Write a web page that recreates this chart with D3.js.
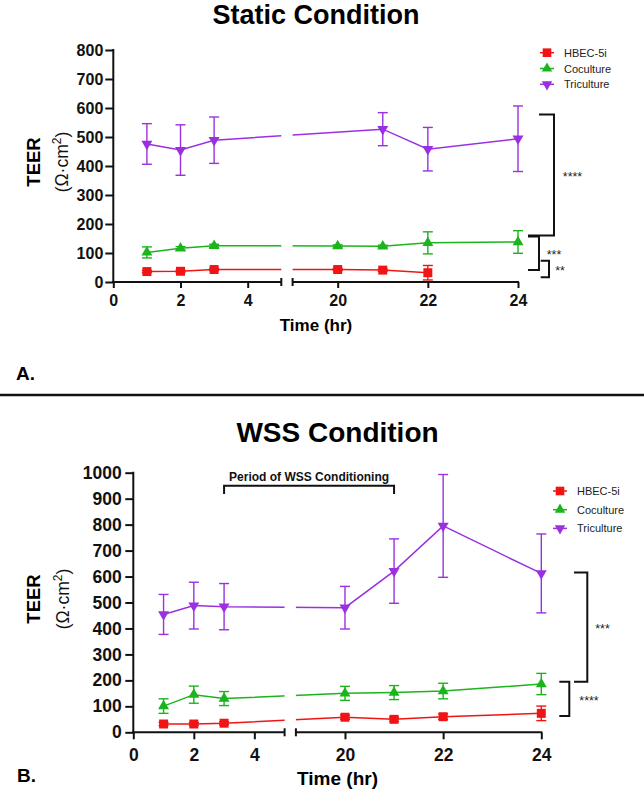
<!DOCTYPE html>
<html><head><meta charset="utf-8">
<script src="https://cdn.jsdelivr.net/npm/d3@7"></script>
<style>
html,body{margin:0;padding:0;background:#fff;}
text{font-family:"Liberation Sans",Arial,Helvetica,sans-serif;}
</style></head>
<body>
<svg id="chart" width="644" height="793"></svg>
<script>
// ---------- DATA ----------
const seriesNames = ["HBEC-5i", "Coculture", "Triculture"];
const seriesColors = ["#f01414", "#1cb41c", "#9b30e0"];
const seriesSymbols = ["square", "triangleUp", "triangleDown"];

const xTicksLeft = [0, 2, 4];
const xTicksRight = [20, 22, 24];
const yTicksStatic = [0, 100, 200, 300, 400, 500, 600, 700, 800];
const yTicksWss = [0, 100, 200, 300, 400, 500, 600, 700, 800, 900, 1000];

// Static condition
const staticHbecTime = [1, 2, 3, 20, 21, 22];
const staticHbecMean = [36, 37, 43, 43, 41, 32];
const staticHbecSD   = [4, 4, 4, 4, 4, 25];
const staticCocTime  = [1, 2, 3, 20, 21, 22, 24];
const staticCocMean  = [102, 116, 125, 124, 123, 135, 138];
const staticCocSD    = [19, 6, 5, 4, 4, 38, 39];
const staticTriTime  = [1, 2, 3, 21, 22, 24];
const staticTriMean  = [476, 455, 489, 527, 458, 494];
const staticTriSD    = [70, 87, 80, 57, 75, 113];

// WSS condition
const wssTime     = [1, 2, 3, 20, 21, 22, 24];
const wssHbecMean = [32, 32, 35, 58, 50, 60, 73];
const wssHbecSD   = [6, 6, 6, 8, 8, 10, 28];
const wssCocMean  = [101, 145, 130, 150, 153, 159, 186];
const wssCocSD    = [28, 33, 27, 27, 27, 30, 41];
const wssTriMean  = [454, 488, 484, 480, 621, 795, 612];
const wssTriSD    = [77, 90, 89, 82, 124, 198, 152];

// significance brackets (value ranges)
const staticSigLabels = ["****", "***", "**"];
const staticSigLo = [160, 41, 16];
const staticSigHi = [578, 157, 73];
const wssSigLabels = ["***", "****"];
const wssSigLo = [195, 63];
const wssSigHi = [616, 195];

const wssPeriodLabel = "Period of WSS Conditioning";
const wssPeriodStart = 3, wssPeriodEnd = 21, wssPeriodLevel = 950, wssPeriodTickEnd = 918;

// ---------- DRAW ----------
const svg = d3.select("#chart");
const FONT = '"Liberation Sans",Arial,Helvetica,sans-serif';
const fmt = d3.format("d");

function symPath(kind, size) {
  if (kind === "square") return d3.symbol(d3.symbolSquare, size * 1.55)();
  return d3.symbol(d3.symbolTriangle, size)();
}

function drawPanel(cfg) {
  const g = svg.append("g");
  const xl = d3.scaleLinear().domain([0, 5]).range(cfg.xLeftRange);
  const xr = d3.scaleLinear().domain([19, 24]).range(cfg.xRightRange);
  const xp = t => (t <= 5 ? xl(t) : xr(t));
  const y = d3.scaleLinear().domain(cfg.yDomain).range(cfg.yRange);

  // title
  g.append("text").attr("x", cfg.titleX).attr("y", cfg.titleY)
    .attr("text-anchor", "middle").attr("font-weight", "bold")
    .attr("font-size", cfg.titleSize).text(cfg.title);

  // y axis
  const ya = d3.axisLeft(y).tickValues(cfg.yTicks).tickFormat(fmt).tickSize(8).tickPadding(cfg.yPad).tickSizeOuter(0);
  const yg = g.append("g").attr("transform", `translate(${xl(0)},0)`).call(ya);
  yg.select(".domain").remove();
  yg.selectAll(".tick line").attr("stroke", "#111").attr("stroke-width", 2);
  yg.selectAll(".tick text").attr("font-size", cfg.tickSize).attr("font-weight", "bold")
    .attr("font-family", FONT).attr("fill", "#111");
  g.append("line").attr("x1", xl(0)).attr("x2", xl(0))
    .attr("y1", y(cfg.yDomain[0]) + 1).attr("y2", y(cfg.yDomain[1]) - 1)
    .attr("stroke", "#111").attr("stroke-width", 2);

  // x axes (broken)
  const y0 = y(0);
  const xaL = d3.axisBottom(xl).tickValues(xTicksLeft).tickFormat(fmt).tickSize(cfg.xTick).tickPadding(cfg.xPad).tickSizeOuter(0);
  const xaR = d3.axisBottom(xr).tickValues(xTicksRight).tickFormat(fmt).tickSize(cfg.xTick).tickPadding(cfg.xPad).tickSizeOuter(0);
  [xaL, xaR].forEach(ax => {
    const xg = g.append("g").attr("transform", `translate(0,${y0})`).call(ax);
    xg.select(".domain").remove();
    xg.selectAll(".tick line").attr("stroke", "#111").attr("stroke-width", 2);
    xg.selectAll(".tick text").attr("font-size", cfg.tickSize).attr("font-weight", "bold")
      .attr("font-family", FONT).attr("fill", "#111");
  });
  g.append("line").attr("x1", xl(0) - 1).attr("x2", xl(5)).attr("y1", y0).attr("y2", y0)
    .attr("stroke", "#111").attr("stroke-width", 2);
  g.append("line").attr("x1", xr(19)).attr("x2", xr(24) + 1).attr("y1", y0).attr("y2", y0)
    .attr("stroke", "#111").attr("stroke-width", 2);
  [xl(5), xr(19)].forEach(px => {
    g.append("line").attr("x1", px).attr("x2", px).attr("y1", y0 - 4).attr("y2", y0 + 4)
      .attr("stroke", "#111").attr("stroke-width", 2);
  });

  // axis labels
  g.append("text").attr("x", cfg.xLabelX).attr("y", cfg.xLabelY).attr("text-anchor", "middle")
    .attr("font-weight", "bold").attr("font-size", cfg.xLabelSize).text("Time (hr)");
  const yl = g.append("g").attr("transform", `translate(0,${cfg.yLabelY})`);
  yl.append("text").attr("transform", `translate(${cfg.yLabelX1},0) rotate(-90)`)
    .attr("text-anchor", "middle").attr("font-weight", "bold").attr("font-size", 18.5).text("TEER");
  const t2 = yl.append("text").attr("transform", `translate(${cfg.yLabelX2},0) rotate(-90)`)
    .attr("text-anchor", "middle").attr("font-size", 17.5).attr("fill", "#111");
  t2.append("tspan").text("(Ω·cm");
  t2.append("tspan").attr("font-size", 12).attr("dy", -7).text("2");
  t2.append("tspan").attr("dy", 7).text(")");

  // panel letter
  g.append("text").attr("x", cfg.letterX).attr("y", cfg.letterY).attr("font-weight", "bold")
    .attr("font-size", 19).text(cfg.letter);

  // clip for lines (broken axis)
  const clipId = "clip" + cfg.letter.replace(".", "");
  const cp = svg.append("clipPath").attr("id", clipId);
  cp.append("rect").attr("x", xl(0)).attr("y", 0).attr("width", xl(5) - xl(0)).attr("height", 793);
  cp.append("rect").attr("x", xr(19)).attr("y", 0).attr("width", xr(24) - xr(19) + 10).attr("height", 793);

  const line = d3.line().x(d => xp(d.t)).y(d => y(d.m));
  cfg.series.forEach((s, i) => {
    const pts = s.time.map((t, k) => ({ t, m: s.mean[k], sd: s.sd[k] }));
    const col = seriesColors[i];
    g.append("path").datum(pts).attr("d", line).attr("fill", "none")
      .attr("stroke", col).attr("stroke-width", 1.5).attr("clip-path", `url(#${clipId})`);
    const eb = g.append("g").attr("stroke", col).attr("stroke-width", 1.4);
    pts.forEach(p => {
      const cx = xp(p.t);
      eb.append("line").attr("x1", cx).attr("x2", cx).attr("y1", y(p.m + p.sd)).attr("y2", y(p.m - p.sd));
      eb.append("line").attr("x1", cx - 5).attr("x2", cx + 5).attr("y1", y(p.m + p.sd)).attr("y2", y(p.m + p.sd));
      eb.append("line").attr("x1", cx - 5).attr("x2", cx + 5).attr("y1", y(p.m - p.sd)).attr("y2", y(p.m - p.sd));
    });
    g.append("g").selectAll("path").data(pts).join("path")
      .attr("d", symPath(seriesSymbols[i], 52))
      .attr("transform", p => `translate(${xp(p.t)},${y(p.m)})` + (seriesSymbols[i] === "triangleDown" ? " rotate(180)" : ""))
      .attr("fill", col);
  });

  // legend
  seriesNames.forEach((nm, i) => {
    const ly = cfg.legendY + i * cfg.legendStep;
    const lg = g.append("g").attr("transform", `translate(${cfg.legendX},${ly})`);
    lg.append("line").attr("x1", -7).attr("x2", 7).attr("stroke", seriesColors[i]).attr("stroke-width", 1.5);
    lg.append("path").attr("d", symPath(seriesSymbols[i], 48))
      .attr("transform", seriesSymbols[i] === "triangleDown" ? "rotate(180)" : null)
      .attr("fill", seriesColors[i]);
    lg.append("text").attr("x", 17).attr("y", 4).attr("font-size", 11).attr("fill", "#222").text(nm);
  });

  // significance brackets
  cfg.sigLabels.forEach((lab, i) => {
    const b = cfg.sigLayout[i];
    const yt = y(cfg.sigHi[i]), yb = y(cfg.sigLo[i]);
    g.append("path").attr("d", `M${b.topL},${yt}H${b.x}V${yb}H${b.botL}`)
      .attr("fill", "none").attr("stroke", "#111").attr("stroke-width", 2);
    g.append("text").attr("x", b.lx).attr("y", (yt + yb) / 2 + 6).attr("text-anchor", "middle")
      .attr("font-size", 12.5).attr("fill", "#222").text(lab);
  });

  return { xp, y, g };
}

// Static panel
drawPanel({
  title: "Static Condition", titleX: 316, titleY: 24, titleSize: 27,
  xLeftRange: [113.3, 281.3], xRightRange: [292.6, 518],
  yDomain: [0, 800], yRange: [282, 50], yTicks: yTicksStatic, yPad: 2,
  xTick: 6, xPad: 7, tickSize: 16,
  xLabelX: 316, xLabelY: 331, xLabelSize: 17,
  yLabelY: 162, yLabelX1: 40, yLabelX2: 68,
  letter: "A.", letterX: 16, letterY: 380,
  legendX: 547, legendY: 52.7, legendStep: 15.8,
  series: [
    { time: staticHbecTime, mean: staticHbecMean, sd: staticHbecSD },
    { time: staticCocTime, mean: staticCocMean, sd: staticCocSD },
    { time: staticTriTime, mean: staticTriMean, sd: staticTriSD }
  ],
  sigLabels: staticSigLabels, sigLo: staticSigLo, sigHi: staticSigHi,
  sigLayout: [
    { x: 554, topL: 539, botL: 528, lx: 572.5 },
    { x: 539, topL: 528, botL: 528, lx: 554 },
    { x: 549, topL: 540.7, botL: 540.7, lx: 560 }
  ]
});

// divider
svg.append("line").attr("x1", 0).attr("x2", 644).attr("y1", 395).attr("y2", 395)
  .attr("stroke", "#111").attr("stroke-width", 2.5);

// WSS panel
const P = drawPanel({
  title: "WSS Condition", titleX: 337.5, titleY: 442, titleSize: 28,
  xLeftRange: [133.3, 284.6], xRightRange: [295.9, 541.3],
  yDomain: [0, 1000], yRange: [732.3, 472.7], yTicks: yTicksWss, yPad: 3.5,
  xTick: 7, xPad: 9, tickSize: 17.5,
  xLabelX: 337.5, xLabelY: 785, xLabelSize: 19,
  yLabelY: 599, yLabelX1: 40, yLabelX2: 69,
  letter: "B.", letterX: 17, letterY: 782,
  legendX: 560, legendY: 491, legendStep: 18.7,
  series: [
    { time: wssTime, mean: wssHbecMean, sd: wssHbecSD },
    { time: wssTime, mean: wssCocMean, sd: wssCocSD },
    { time: wssTime, mean: wssTriMean, sd: wssTriSD }
  ],
  sigLabels: wssSigLabels, sigLo: wssSigLo, sigHi: wssSigHi,
  sigLayout: [
    { x: 587.3, topL: 574, botL: 574, lx: 602.5 },
    { x: 569.3, topL: 559.3, botL: 559.3, lx: 589 }
  ]
});

// WSS conditioning period bracket
{
  const x1 = P.xp(wssPeriodStart), x2 = P.xp(wssPeriodEnd);
  const yl = P.y(wssPeriodLevel), yt = P.y(wssPeriodTickEnd);
  P.g.append("path").attr("d", `M${x1},${yt}V${yl}H${x2}V${yt}`)
    .attr("fill", "none").attr("stroke", "#111").attr("stroke-width", 2);
  P.g.append("text").attr("x", (x1 + x2) / 2).attr("y", yl - 5).attr("text-anchor", "middle")
    .attr("font-weight", "bold").attr("font-size", 12).attr("fill", "#111").text(wssPeriodLabel);
}
</script>
</body></html>
